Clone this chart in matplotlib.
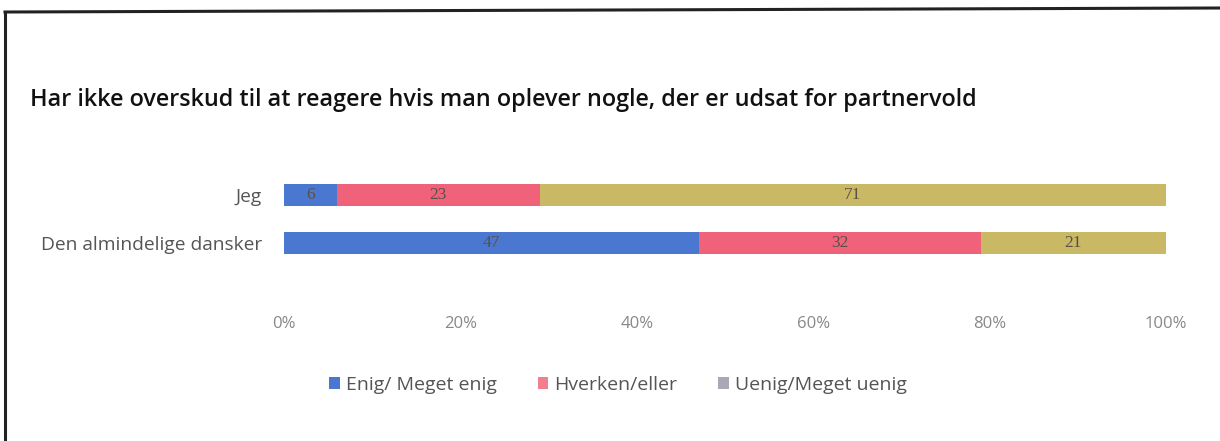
import matplotlib
matplotlib.use("Agg")
import matplotlib.pyplot as plt
from matplotlib.patches import Patch
from matplotlib.lines import Line2D

categories = ["Den almindelige dansker", "Jeg"]
series_names = ["Enig/ Meget enig", "Hverken/eller", "Uenig/Meget uenig"]
enig = [47, 6]
hverken = [32, 23]
uenig = [21, 71]
xticks = [0, 20, 40, 60, 80, 100]
xticklabels = ["0%", "20%", "40%", "60%", "80%", "100%"]
title = "Har ikke overskud til at reagere hvis man oplever nogle, der er udsat for partnervold"

colors = ["#4a78d0", "#f0627a", "#c9b964"]
legend_colors = ["#4a78d0", "#f08090", "#a8a8b8"]

W, H = 1220, 441
fig = plt.figure(figsize=(W / 100, H / 100), dpi=100)
fig.patch.set_facecolor("white")

# frame lines (scanned border)
fig.add_artist(Line2D([5 / W, 5 / W], [0, 1 - 12 / H], color="#222222", lw=2.2))
fig.add_artist(Line2D([5 / W, 1], [1 - 12 / H, 1 - 8 / H], color="#222222", lw=2.2))

ax_top, ax_bot = 170, 305
ax = fig.add_axes([284 / W, 1 - ax_bot / H, (1166 - 284) / W, (ax_bot - ax_top) / H])
unit = 48.0
ax.set_ylim(-(ax_bot - 243) / unit, 1 + (195 - ax_top) / unit)
ax.set_xlim(0, 100)

ypos = list(range(len(categories)))
left = [0] * len(categories)
for vals, c in zip([enig, hverken, uenig], colors):
    ax.barh(ypos, vals, left=left, height=0.46, color=c, edgecolor="none")
    for y, v, l in zip(ypos, vals, left):
        ax.text(l + v / 2, y, str(v), ha="center", va="center", fontsize=12.5,
                color="#5a5048", family="Liberation Serif")
    left = [a + b for a, b in zip(left, vals)]

ax.set_yticks(ypos)
ax.set_yticklabels(categories, fontsize=13.8, color="#555555", family="Open Sans")
ax.set_xticks(xticks)
ax.set_xticklabels(xticklabels, fontsize=12, color="#888888", family="Open Sans")
ax.tick_params(axis="both", length=0)
ax.tick_params(axis="y", pad=16)
ax.tick_params(axis="x", pad=8)
for s in ax.spines.values():
    s.set_visible(False)

fig.text(30 / W, 1 - 100 / H, title, fontsize=16.8, color="#111111",
         family="Open Sans", ha="left", va="center", fontweight="semibold")

handles = [Patch(facecolor=c, edgecolor="none") for c in legend_colors]
fig.legend(handles, series_names, loc="center", bbox_to_anchor=(618 / W, 1 - 385 / H),
           ncol=3, frameon=False, handlelength=0.55, handleheight=0.55,
           handletextpad=0.3, columnspacing=2.1,
           prop={"family": "Open Sans", "size": 14})
for t in fig.legends[0].get_texts():
    t.set_color("#555555")

fig.savefig("out.png", dpi=100, facecolor="white")
